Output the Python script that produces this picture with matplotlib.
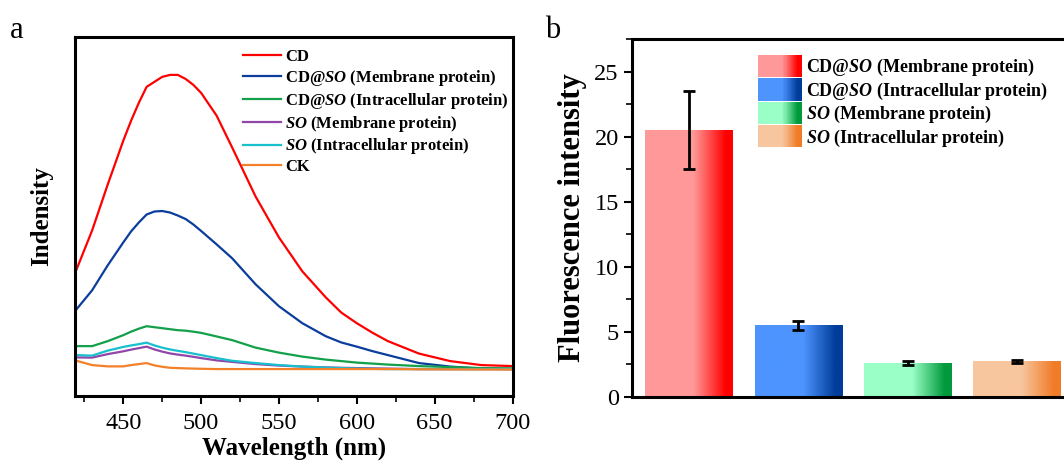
import numpy as np
import matplotlib
matplotlib.use('Agg')
import matplotlib.pyplot as plt
from matplotlib.colors import LinearSegmentedColormap
from matplotlib.legend_handler import HandlerBase
from matplotlib.patches import Rectangle
from matplotlib.ticker import MultipleLocator

plt.rcParams['font.family'] = ['Liberation Serif', 'DejaVu Serif']
plt.rcParams['mathtext.fontset'] = 'custom'
plt.rcParams['mathtext.it'] = 'Liberation Serif:bold:italic'
plt.rcParams['mathtext.rm'] = 'Liberation Serif:bold'

# ---- panel a : emission spectra (a.u.)
wl = [420, 430, 440, 450, 455, 460, 465, 470, 475, 480, 485, 490, 495, 500, 510, 520, 535, 550,
      565, 580, 590, 600, 610, 620, 640, 660, 680, 700]
cd = [127, 166, 212, 256, 276, 294, 310, 315, 320, 322, 322, 318, 312, 304, 281, 249, 200, 159,
      125, 99, 83.7, 73, 63.5, 55, 42.5, 35, 31, 30]
cd_so_mem = [87, 106, 131, 154, 165, 174, 182, 185, 185.5, 184, 181, 177.5, 172, 165.5, 152, 138, 112, 90,
             73, 60, 53.7, 49.5, 45, 41, 33, 29.5, 27.5, 27]
cd_so_intra = [50, 50, 55, 61, 64.5, 67.5, 70, 69, 68, 67, 66, 65.5, 64.5, 63.3, 59.7, 56, 48.5, 43.5,
               39.5, 36.5, 35, 33.5, 32.5, 31.5, 30, 29, 28, 27.7]
so_mem = [38.7, 38.5, 42, 44.8, 46.5, 48, 49.5, 46.7, 44.5, 42.7, 41.5, 40.5, 39.3, 38, 35.7, 34.2, 32, 30.5,
          29.5, 28.7, 28.3, 28, 27.7, 27.5, 27, 27, 27, 27]
so_intra = [41, 40.5, 45.5, 49.2, 50.7, 52, 53.5, 50.7, 48.5, 46.7, 45.3, 44, 42.5, 41, 38, 35.3, 33, 31,
            29.5, 28.5, 28, 27.5, 27.2, 27, 27, 27, 27, 27]
ck = [35.3, 31, 29.7, 29.7, 31, 32, 33, 30.7, 29.3, 28.3, 28, 27.7, 27.5, 27.3, 27, 27, 27, 27,
      27, 27, 27, 27, 27, 27, 26.8, 26.7, 26.6, 26.5]

line_labels = ['CD', 'CD@$SO$ (Membrane protein)', 'CD@$SO$ (Intracellular protein)',
               '$SO$ (Membrane protein)', '$SO$ (Intracellular protein)', 'CK']
line_colors = ['#ff0000', '#0b3d9c', '#12a04a', '#9146a8', '#18bfcc', '#f5802a']

# ---- panel b : bar chart
bar_labels = ['CD@$SO$ (Membrane protein)', 'CD@$SO$ (Intracellular protein)',
              '$SO$ (Membrane protein)', '$SO$ (Intracellular protein)']
bar_vals = [20.5, 5.5, 2.6, 2.75]
bar_err = [3.0, 0.33, 0.15, 0.12]
light = ['#ff9999', '#4d94ff', '#99ffc6', '#f8c69e']
dark = ['#ff0000', '#003c99', '#00993c', '#f07c28']


def grad_cmap(c1, c2):
	return LinearSegmentedColormap.from_list('g', [(0, c1), (0.55, c1), (0.92, c2), (1, c2)])


class HandlerGrad(HandlerBase):
	def __init__(self, cmap):
		HandlerBase.__init__(self)
		self.cmap = cmap

	def create_artists(self, legend, orig_handle, xdescent, ydescent, width, height, fontsize, trans):
		n = 40
		arts = []
		for i in range(n):
			r = Rectangle((-xdescent + width * i / n, -ydescent - 2.5), width / n * 1.05, height + 5,
						  facecolor=self.cmap(i / (n - 1)), edgecolor='none', transform=trans)
			arts.append(r)
		return arts


fig = plt.figure(figsize=(10.64, 4.70), dpi=100)

# ================= a
ax1 = fig.add_axes([75 / 1064, 74 / 470, 437.5 / 1064, 359 / 470])
for y, c, lab in zip([cd, cd_so_mem, cd_so_intra, so_mem, so_intra, ck], line_colors, line_labels):
	ax1.plot(wl, y, color=c, lw=1.6, label=lab)
ax1.set_xlim(419, 700)
ax1.set_ylim(0, 360)
ax1.set_yticks([])
ax1.xaxis.set_major_locator(MultipleLocator(50))
ax1.xaxis.set_minor_locator(MultipleLocator(25))
ax1.tick_params(axis='x', which='major', direction='out', length=6, width=1.5, labelsize=17.5, pad=6)
ax1.tick_params(axis='x', which='minor', direction='out', length=4, width=1.2)
for s in ax1.spines.values():
	s.set_linewidth(2.2)
ax1.set_xlabel('Wavelength (nm)', fontsize=18, fontweight='bold', labelpad=2)
ax1.set_ylabel('Indensity', fontsize=18, fontweight='bold', labelpad=16)
leg1 = ax1.legend(loc='upper left', bbox_to_anchor=(0.369, 0.985), frameon=False,
				  prop={'size': 12, 'weight': 'bold'}, handlelength=2.3, handletextpad=0.2,
				  labelspacing=0.17, borderaxespad=0)

# ================= b
ax2 = fig.add_axes([632 / 1064, 73 / 470, 440 / 1064, 358 / 470])
xs = np.arange(len(bar_vals))
bars = ax2.bar(xs, bar_vals, width=0.8, color='none', edgecolor='none', zorder=1)
cmaps = [grad_cmap(a, b) for a, b in zip(light, dark)]
grad = np.linspace(0, 1, 256).reshape(1, -1)
for b, cm in zip(bars, cmaps):
	x0 = b.get_x()
	im = ax2.imshow(grad, cmap=cm, extent=[x0, x0 + b.get_width(), 0, b.get_height()],
					aspect='auto', zorder=1)
	im.set_clip_path(b)
ax2.errorbar(xs, bar_vals, yerr=bar_err, fmt='none', ecolor='black', elinewidth=2,
			 capsize=4, capthick=2, zorder=3)
ax2.set_xlim(-0.52, 3.5)
ax2.set_ylim(0, 27.5)
ax2.set_xticks([])
ax2.yaxis.set_major_locator(MultipleLocator(5))
ax2.yaxis.set_minor_locator(MultipleLocator(2.5))
ax2.tick_params(axis='y', which='major', direction='out', length=6, width=1.5, labelsize=17.5)
ax2.tick_params(axis='y', which='minor', direction='out', length=4, width=1.2)
for s in ax2.spines.values():
	s.set_linewidth(2.2)
ax2.set_ylabel('Fluorescence intensity', fontsize=22, fontweight='bold', labelpad=5)
hmap = {b: HandlerGrad(cm) for b, cm in zip(bars, cmaps)}
leg2 = ax2.legend(list(bars), bar_labels, handler_map=hmap, loc='upper left',
				  bbox_to_anchor=(0.271, 0.97), frameon=False, prop={'size': 13, 'weight': 'bold'},
				  handlelength=2.4, handleheight=0.95, handletextpad=0.25, labelspacing=0.13,
				  borderaxespad=0)

fig.text(10 / 1064, 1 - 38 / 470, 'a', fontsize=22)
fig.text(545 / 1064, 1 - 38 / 470, 'b', fontsize=22)

fig.savefig('out.png', dpi=100)
